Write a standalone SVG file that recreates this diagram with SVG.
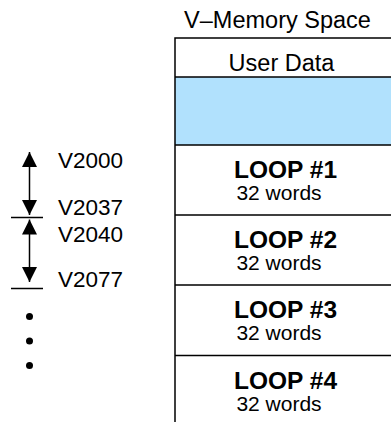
<svg xmlns="http://www.w3.org/2000/svg" width="391" height="422" viewBox="0 0 391 422">
<style>
text{font-family:"Liberation Sans",Arial,sans-serif;fill:#000}
.h{font-size:23.5px}
.t{font-size:21px}
.l{font-size:22.5px}
.b{font-size:24.5px;font-weight:bold}
.ln{stroke:#000;stroke-width:1.5;fill:none}
</style>
<defs>
<marker id="ah" viewBox="0 0 10 10" refX="10" refY="5" markerWidth="15" markerHeight="15" markerUnits="userSpaceOnUse" orient="auto">
<path d="M0,0 L10,5 L0,10 Z" fill="#000"/>
</marker>
</defs>
<rect width="391" height="422" fill="#fff"/>
<text class="h" x="277.5" y="28" text-anchor="middle">V–Memory Space</text>
<g id="memory">
<rect x="175" y="77" width="220" height="68" fill="#B1E1FD"/>
<path class="ln" d="M175,422 V38 H391 M175,77 H391 M175,145 H391 M175,215 H391 M175,285 H391 M175,355.5 H391"/>
</g>
<g id="user-data"><text class="h" x="281.5" y="71" text-anchor="middle">User Data</text></g>
<g id="loop1"><text class="b" x="285.5" y="178" text-anchor="middle">LOOP #1</text><text class="t" x="279" y="200" text-anchor="middle">32 words</text></g>
<g id="loop2"><text class="b" x="285.5" y="248" text-anchor="middle">LOOP #2</text><text class="t" x="279" y="270" text-anchor="middle">32 words</text></g>
<g id="loop3"><text class="b" x="285.5" y="318" text-anchor="middle">LOOP #3</text><text class="t" x="279" y="340" text-anchor="middle">32 words</text></g>
<g id="loop4"><text class="b" x="285.5" y="389" text-anchor="middle">LOOP #4</text><text class="t" x="279" y="411" text-anchor="middle">32 words</text></g>
<g id="connectors">
<path class="ln" d="M29.5,184 L29.5,152" marker-end="url(#ah)"/>
<path class="ln" d="M29.5,184 L29.5,215" marker-end="url(#ah)"/>
<path class="ln" d="M29.5,250 L29.5,219.5" marker-end="url(#ah)"/>
<path class="ln" d="M29.5,250 L29.5,282" marker-end="url(#ah)"/>
<path class="ln" d="M11,217.5 H43 M11,288.5 H43"/>
</g>
<g id="labels">
<text class="l" x="58" y="168">V2000</text>
<text class="l" x="58" y="215">V2037</text>
<text class="l" x="58" y="242">V2040</text>
<text class="l" x="58" y="287">V2077</text>
</g>
<g id="dots">
<circle cx="29.5" cy="316.5" r="3.5"/>
<circle cx="29.5" cy="341" r="3.5"/>
<circle cx="29.5" cy="365.5" r="3.5"/>
</g>
</svg>
